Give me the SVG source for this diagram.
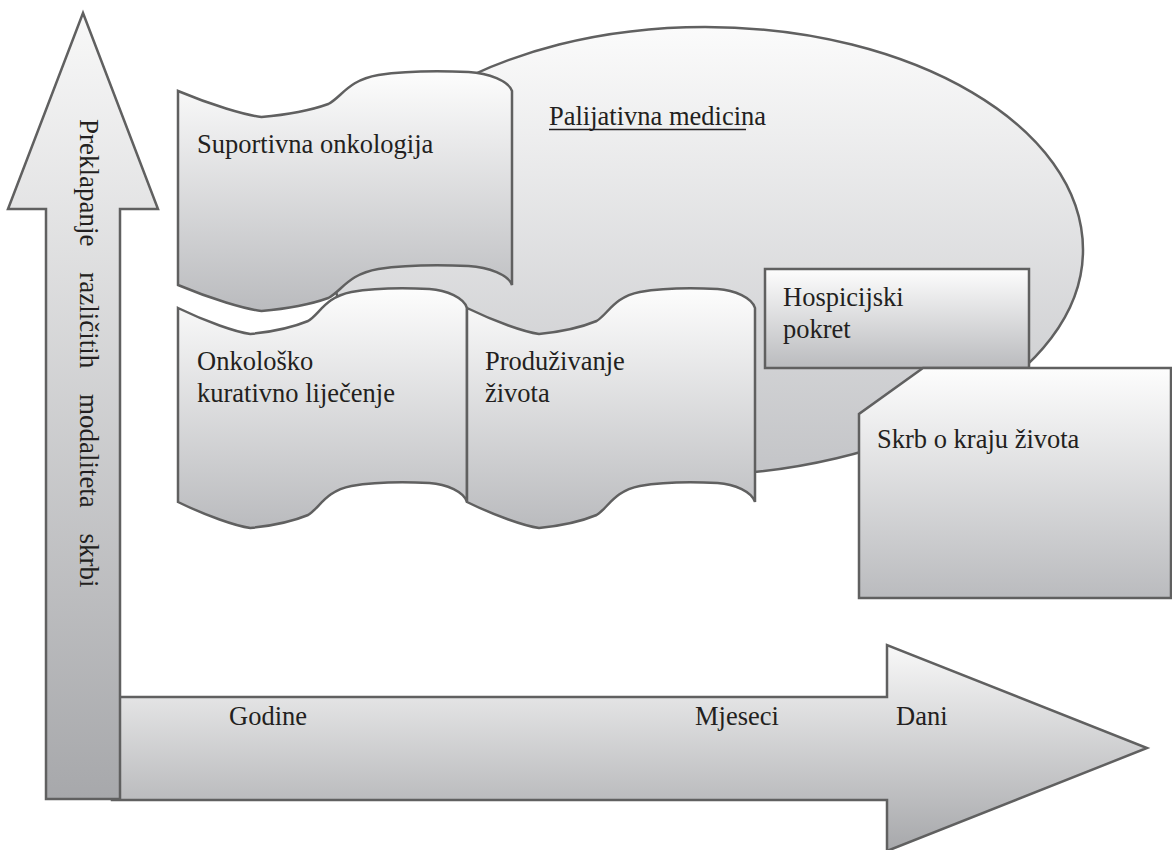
<svg xmlns="http://www.w3.org/2000/svg" width="1172" height="850" viewBox="0 0 1172 850">
  <defs>
    <linearGradient id="gBand" x1="0" y1="0" x2="0" y2="1">
      <stop offset="0" stop-color="#fdfdfd"/>
      <stop offset="1" stop-color="#babbbe"/>
    </linearGradient>
    <linearGradient id="gEll" x1="0" y1="0" x2="0" y2="1">
      <stop offset="0" stop-color="#fbfbfb"/>
      <stop offset="1" stop-color="#c3c4c7"/>
    </linearGradient>
    <linearGradient id="gArrow" x1="0" y1="0" x2="0" y2="1">
      <stop offset="0" stop-color="#f8f8f8"/>
      <stop offset="1" stop-color="#a7a8ab"/>
    </linearGradient>
    <style>
      .shape { stroke: #606060; stroke-width: 2.5; stroke-linejoin: miter; }
      .band { fill: url(#gBand); }
      .ell { fill: url(#gEll); }
      .arrow { fill: url(#gArrow); }
      .lbl { font-family: "Liberation Serif", "Times New Roman", serif; font-size: 26.5px; fill: #231f20; }
    </style>
  </defs>

  <g id="palijativna-medicina">
    <path class="shape ell" d="M 705,27 C 913,27 1083,127 1083,250 C 1083,375 902,476 680,476 C 487,476 330,375 330,250 C 330,127 498,27 705,27 Z"/>
    <text class="lbl" x="549" y="125">Palijativna medicina</text>
    <line x1="549" y1="129.5" x2="746" y2="129.5" stroke="#231f20" stroke-width="1.4"/>
  </g>

  <g id="suportivna-onkologija">
    <path class="shape band" d="M 178,91 C 211.4,105 244.8,115 261.5,117 C 284.9,115 311.6,110 328.3,104 C 341.7,97 348.3,80 378.4,75 C 405.1,71 445.2,71 468.6,72 C 488.6,73 508.7,81 512,91 L 512,285 C 508.7,275 488.6,267 468.6,266 C 445.2,265 405.1,265 378.4,269 C 348.3,274 341.7,291 328.3,298 C 311.6,304 284.9,309 261.5,311 C 244.8,309 211.4,299 178,285 Z"/>
    <text class="lbl" x="197" y="153">Suportivna onkologija</text>
  </g>

  <g id="onkolosko-lijecenje">
    <path class="shape band" d="M 178,308 C 206.9,322 235.8,332 250.3,334 C 270.5,332 293.6,327 308.1,321 C 319.6,314 325.4,297 351.4,292 C 374.5,288 409.2,288 429.4,289 C 446.8,290 464.1,298 467,308 L 467,502 C 464.1,492 446.8,484 429.4,483 C 409.2,482 374.5,482 351.4,486 C 325.4,491 319.6,508 308.1,515 C 293.6,521 270.5,526 250.3,528 C 235.8,526 206.9,516 178,502 Z"/>
    <text class="lbl" x="197" y="370">Onkološko</text>
    <text class="lbl" x="197" y="402">kurativno liječenje</text>
  </g>

  <g id="produzivanje-zivota">
    <path class="shape band" d="M 467,308 C 495.8,322 524.6,332 539,334 C 559.2,332 582.2,327 596.6,321 C 608.1,314 613.9,297 639.8,292 C 662.8,288 697.4,288 717.6,289 C 734.8,290 752.1,298 755,308 L 755,502 C 752.1,492 734.8,484 717.6,483 C 697.4,482 662.8,482 639.8,486 C 613.9,491 608.1,508 596.6,515 C 582.2,521 559.2,526 539,528 C 524.6,526 495.8,516 467,502 Z"/>
    <text class="lbl" x="485" y="370">Produživanje</text>
    <text class="lbl" x="485" y="402">života</text>
  </g>

  <g id="hospicijski-pokret">
    <rect class="shape band" x="765" y="269" width="264" height="99"/>
    <text class="lbl" x="783" y="306">Hospicijski</text>
    <text class="lbl" x="783" y="338">pokret</text>
  </g>

  <g id="skrb-o-kraju-zivota">
    <path class="shape band" d="M 923,368 L 1171,368 L 1171,598 L 859,598 L 859,414 Z"/>
    <text class="lbl" x="877" y="448">Skrb o kraju života</text>
  </g>

  <g id="axes">
    <g id="vrijeme">
      <path class="shape arrow" d="M 112,697 L 887,697 L 887,645 L 1147,748 L 887,851 L 887,800 L 112,800 Z"/>
      <text class="lbl" x="229" y="725">Godine</text>
      <text class="lbl" x="695" y="725">Mjeseci</text>
      <text class="lbl" x="896" y="725">Dani</text>
    </g>
    <g id="preklapanje">
      <path class="shape arrow" d="M 83,13 L 158,209 L 120,209 L 120,799 L 46,799 L 46,209 L 8,209 Z"/>
      <text class="lbl" transform="translate(80,119) rotate(90)" x="0" y="0" style="font-size:27px" word-spacing="19">Preklapanje razli&#269;itih modaliteta skrbi</text>
    </g>
  </g>
</svg>
